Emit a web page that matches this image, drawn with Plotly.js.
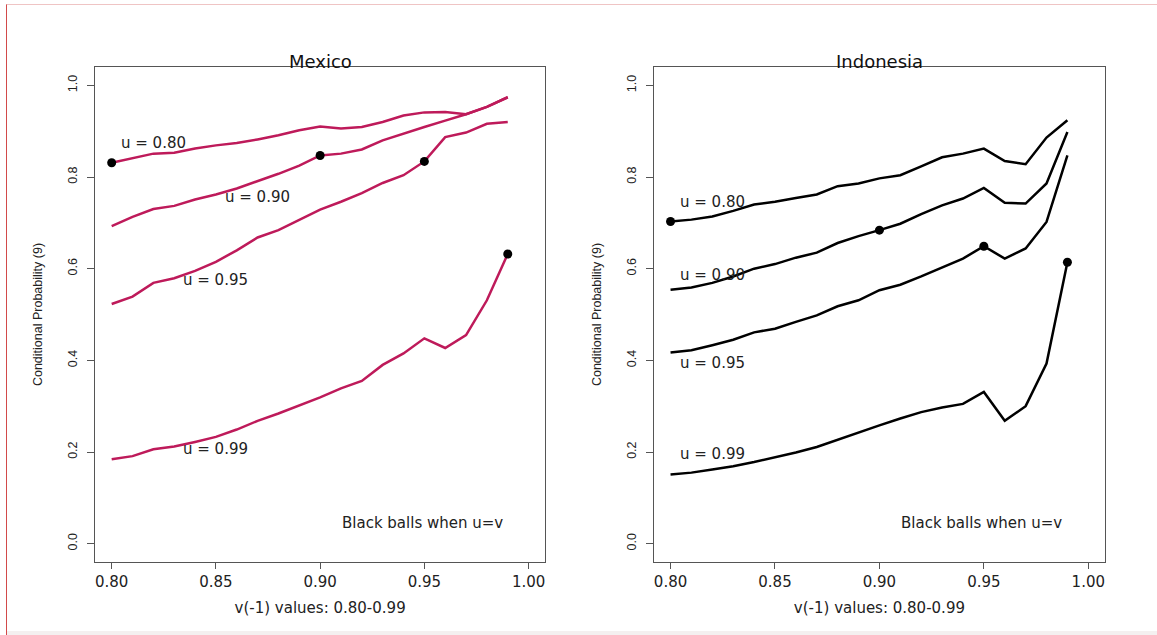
<!DOCTYPE html>
<html>
<head>
<meta charset="utf-8">
<script src="https://cdn.plot.ly/plotly-3.0.1.min.js"></script>
<style>
  html, body { margin: 0; padding: 0; background: #ffffff; }
  #wrap { position: relative; width: 1157px; height: 635px; overflow: hidden; }
  #chart { position: absolute; left: 0; top: 0; width: 1157px; height: 635px; }
  #frame { position: absolute; left: 6px; top: 4px; width: 1151px; height: 631px;
           border-left: 1px solid #d24a4a; border-top: 1px solid #efc4c4;
           box-sizing: border-box; pointer-events: none; }
  #band { position: absolute; left: 7px; top: 631px; width: 1150px; height: 4px;
          background: #f4f0f0; pointer-events: none; }
</style>
</head>
<body>
<div id="wrap">
  <div id="chart"></div>
  <div id="frame"></div>
  <div id="band"></div>
</div>
<script>
// ---- data ----
const vValues = [0.80,0.81,0.82,0.83,0.84,0.85,0.86,0.87,0.88,0.89,0.90,0.91,0.92,0.93,0.94,0.95,0.96,0.97,0.98,0.99];
const uLevels = [0.80, 0.90, 0.95, 0.99];
const uLabels = ["u = 0.80", "u = 0.90", "u = 0.95", "u = 0.99"];

const mexico_u80 = [0.831,0.841,0.851,0.853,0.862,0.869,0.874,0.882,0.891,0.902,0.910,0.906,0.909,0.920,0.934,0.941,0.942,0.937,0.953,0.974];
const mexico_u90 = [0.693,0.713,0.730,0.737,0.751,0.762,0.775,0.791,0.807,0.825,0.847,0.851,0.860,0.880,0.895,0.909,0.923,0.937,0.953,0.974];
const mexico_u95 = [0.523,0.539,0.569,0.579,0.595,0.615,0.640,0.668,0.684,0.706,0.729,0.746,0.765,0.787,0.804,0.834,0.887,0.897,0.916,0.920];
const mexico_u99 = [0.184,0.191,0.206,0.212,0.222,0.233,0.249,0.268,0.284,0.302,0.319,0.339,0.355,0.390,0.415,0.448,0.427,0.455,0.531,0.632];

const indonesia_u80 = [0.703,0.707,0.714,0.726,0.740,0.746,0.754,0.762,0.780,0.786,0.797,0.804,0.823,0.843,0.851,0.862,0.835,0.828,0.886,0.924];
const indonesia_u90 = [0.554,0.559,0.569,0.583,0.600,0.610,0.624,0.635,0.656,0.671,0.684,0.698,0.719,0.738,0.753,0.776,0.744,0.742,0.786,0.898];
const indonesia_u95 = [0.417,0.422,0.433,0.445,0.461,0.469,0.484,0.498,0.518,0.531,0.553,0.565,0.583,0.602,0.622,0.649,0.622,0.644,0.702,0.847];
const indonesia_u99 = [0.151,0.155,0.162,0.169,0.178,0.188,0.199,0.211,0.227,0.243,0.258,0.273,0.287,0.297,0.305,0.331,0.268,0.300,0.393,0.614];

// label anchor positions (data units) for the in-plot texts
const mexicoLabelX = [0.820, 0.870, 0.850, 0.850];
const mexicoLabelY = [0.875, 0.757, 0.575, 0.206];
const indonesiaLabelX = [0.820, 0.820, 0.820, 0.820];
const indonesiaLabelY = [0.746, 0.586, 0.395, 0.196];
const noteText = "Black balls when u=v";
const noteX = 0.949, noteY = 0.046;

const xTickVals = [0.80, 0.85, 0.90, 0.95, 1.00];
const xTickText = ["0.80", "0.85", "0.90", "0.95", "1.00"];
const yTickVals = [0.0, 0.2, 0.4, 0.6, 0.8, 1.0];
const yTickText = ["0.0", "0.2", "0.4", "0.6", "0.8", "1.0"];

const panels = [
  { title: "Mexico", series: [mexico_u80, mexico_u90, mexico_u95, mexico_u99], color: "#be1a5a",
    lx: mexicoLabelX, ly: mexicoLabelY, xa: "x", ya: "y" },
  { title: "Indonesia", series: [indonesia_u80, indonesia_u90, indonesia_u95, indonesia_u99], color: "#000000",
    lx: indonesiaLabelX, ly: indonesiaLabelY, xa: "x2", ya: "y2" }
];

// ---- build traces ----
const traces = [];
const annotations = [];
const wideFont = "DejaVu Sans, Verdana, sans-serif";
const narrowFont = "Liberation Sans, Arial, sans-serif";

panels.forEach(p => {
  p.series.forEach((ys, i) => {
    traces.push({ x: vValues, y: ys, xaxis: p.xa, yaxis: p.ya, type: "scatter", mode: "lines",
      line: { color: p.color, width: 2.5 }, hoverinfo: "x+y", showlegend: false, name: uLabels[i] });
  });
  // black balls where u = v
  const bx = [], by = [];
  uLevels.forEach((u, i) => {
    const idx = vValues.findIndex(v => Math.abs(v - u) < 1e-9);
    bx.push(vValues[idx]); by.push(p.series[i][idx]);
  });
  traces.push({ x: bx, y: by, xaxis: p.xa, yaxis: p.ya, type: "scatter", mode: "markers",
    marker: { color: "#000000", size: 9 }, showlegend: false, hoverinfo: "x+y", cliponaxis: false });

  uLabels.forEach((t, i) => {
    annotations.push({ xref: p.xa, yref: p.ya, x: p.lx[i], y: p.ly[i], text: t, showarrow: false,
      xanchor: "center", yanchor: "middle", font: { family: wideFont, size: 15, color: "#222" } });
  });
  annotations.push({ xref: p.xa, yref: p.ya, x: noteX, y: noteY, text: noteText, showarrow: false,
    xanchor: "center", yanchor: "middle", font: { family: wideFont, size: 15, color: "#222" } });
  annotations.push({ xref: p.xa, yref: "paper", x: 0.90, y: 1.012, text: p.title, showarrow: false,
    xanchor: "center", yanchor: "middle", font: { family: wideFont, size: 18, color: "#111" } });
});

function xAxis(domain, anchor) {
  return { domain: domain, anchor: anchor, range: [0.792, 1.008], tickmode: "array",
    tickvals: xTickVals, ticktext: xTickText, ticks: "outside", ticklen: 6, tickwidth: 1, tickcolor: "#555",
    showline: true, mirror: true, linecolor: "#555", linewidth: 1, showgrid: false, zeroline: false,
    tickfont: { family: wideFont, size: 15, color: "#222" }, automargin: false,
    title: { text: "v(-1) values: 0.80-0.99", font: { family: wideFont, size: 15, color: "#222" }, standoff: 12 } };
}
function yAxis(anchor) {
  return { domain: [0, 1], anchor: anchor, range: [-0.04, 1.04], tickmode: "array",
    tickvals: yTickVals, ticktext: yTickText, tickangle: -90, ticks: "outside", ticklen: 7, tickwidth: 1,
    tickcolor: "#555", showline: true, mirror: true, linecolor: "#555", linewidth: 1, showgrid: false,
    zeroline: false, tickfont: { family: narrowFont, size: 12.5, color: "#222" }, automargin: false,
    ticklabelstandoff: 5,
    title: { text: "Conditional Probability (9)", font: { family: narrowFont, size: 12.5, color: "#222" }, standoff: 20 } };
}

const layout = {
  width: 1157, height: 635,
  margin: { l: 95, r: 52, t: 67, b: 73 },
  paper_bgcolor: "#ffffff", plot_bgcolor: "#ffffff",
  showlegend: false,
  xaxis: xAxis([0, 0.4458], "y"),
  yaxis: yAxis("x"),
  xaxis2: xAxis([0.5533, 1], "y2"),
  yaxis2: yAxis("x2"),
  annotations: annotations
};

Plotly.newPlot("chart", traces, layout, { displayModeBar: false, staticPlot: false });
</script>
</body>
</html>
